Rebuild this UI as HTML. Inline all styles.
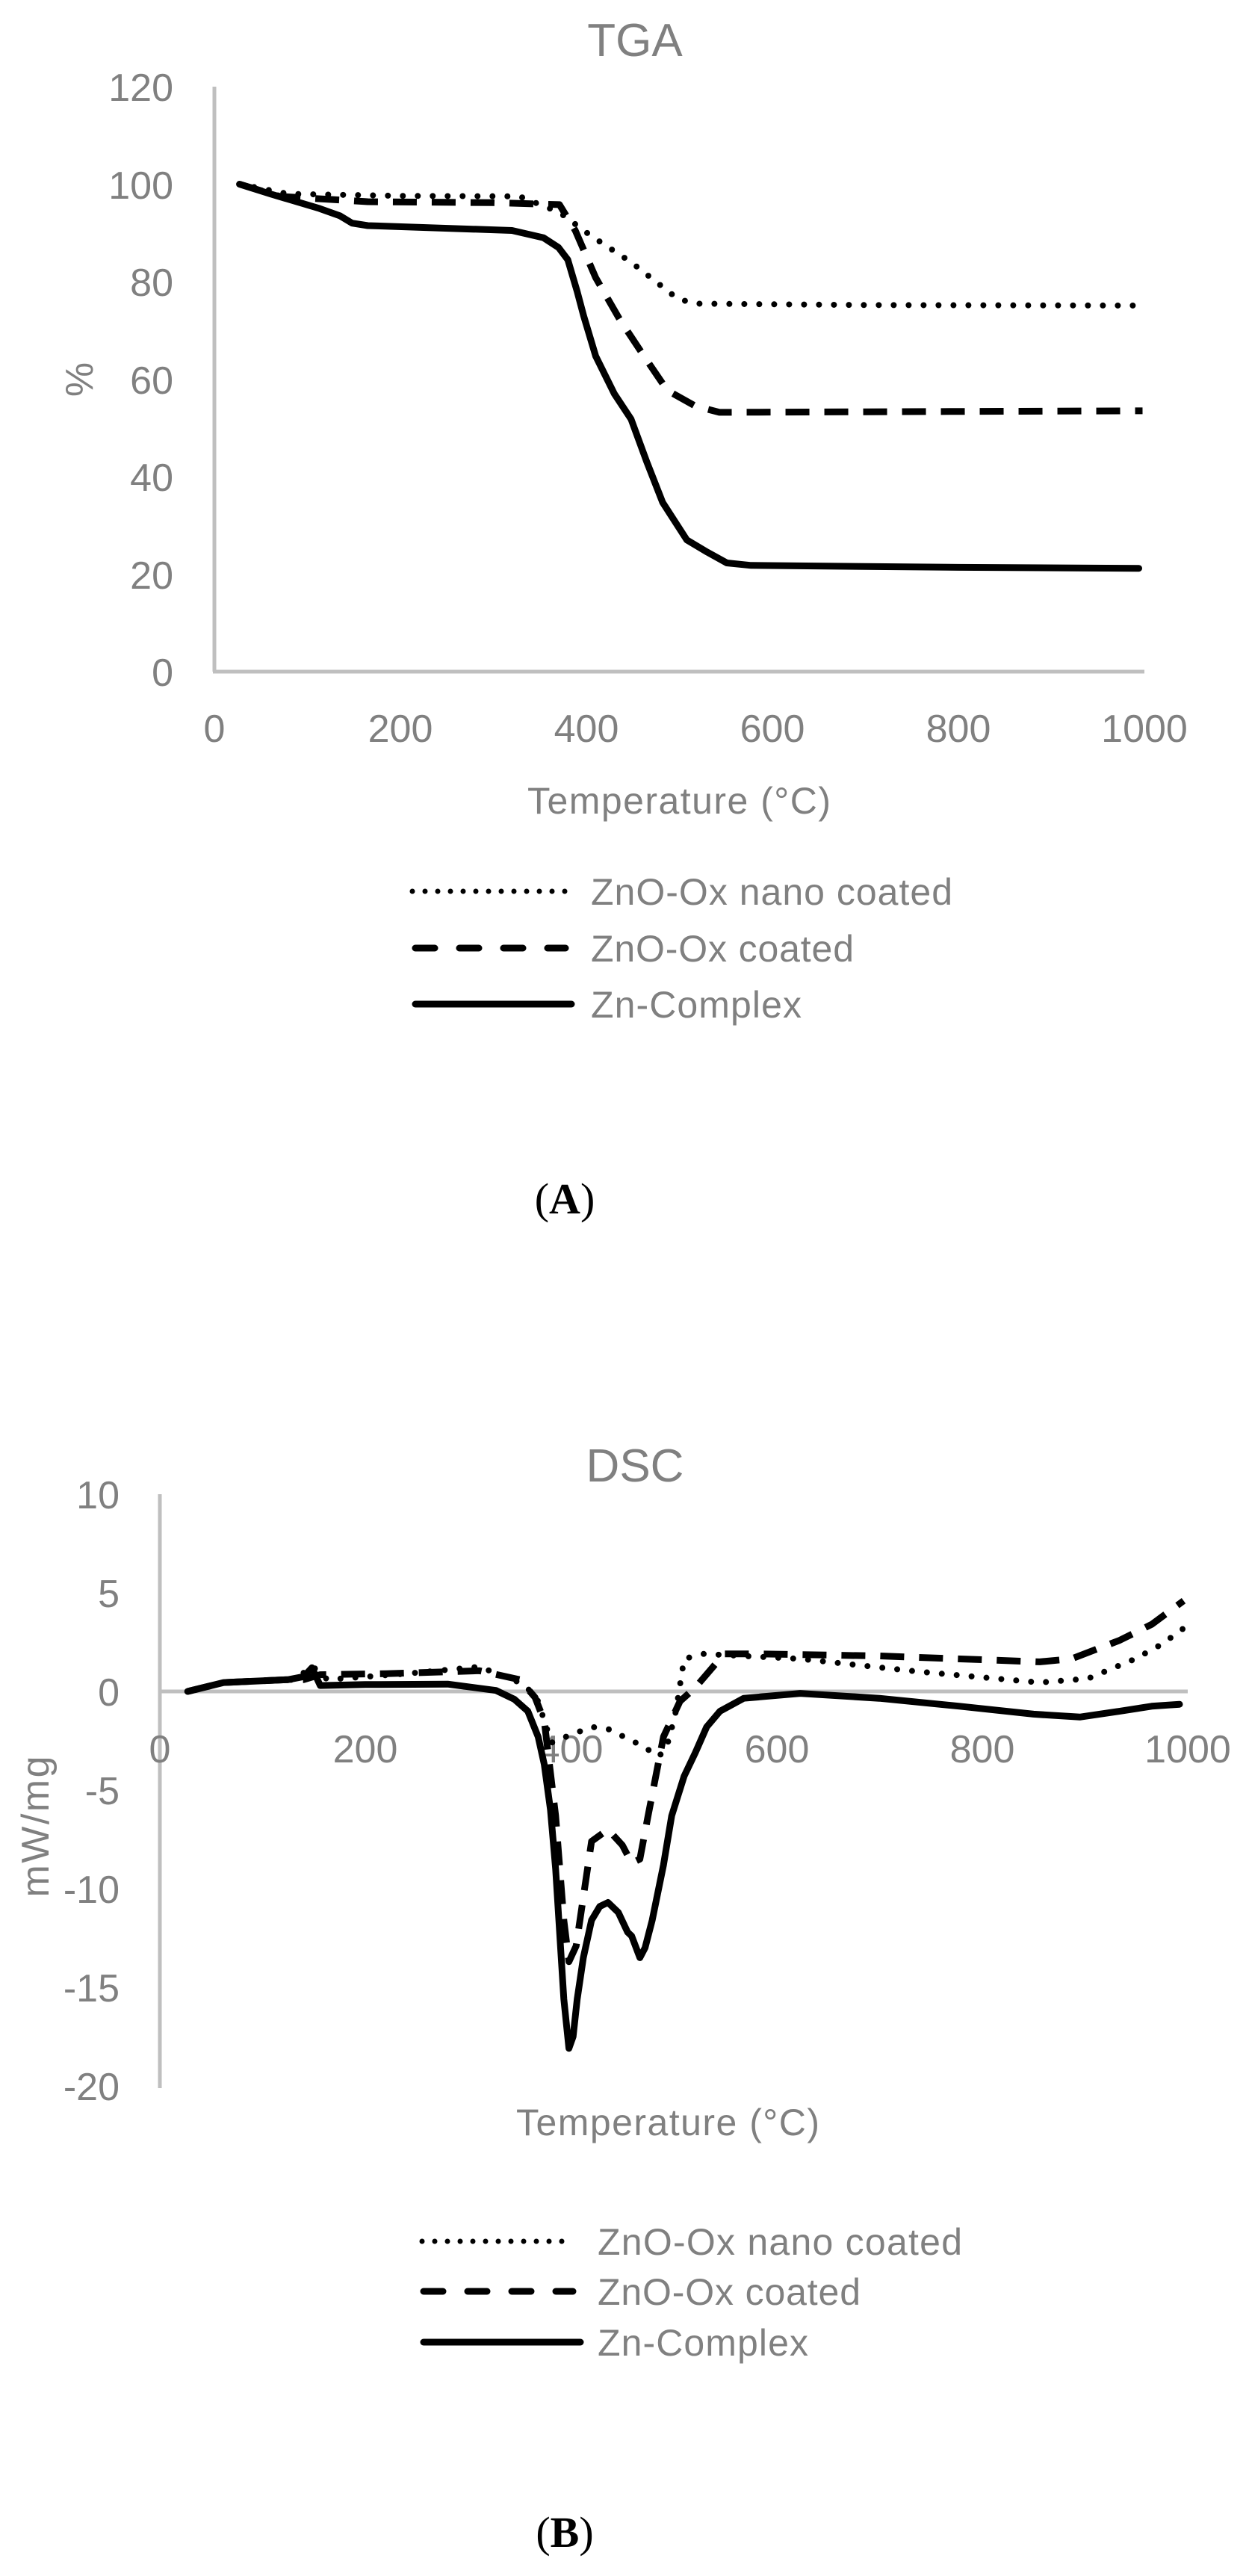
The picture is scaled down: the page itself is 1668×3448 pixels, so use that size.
<!DOCTYPE html>
<html><head><meta charset="utf-8"><style>
html,body{margin:0;padding:0;background:#fff;}
svg{display:block;}
text{font-family:"Liberation Sans",sans-serif;fill:#808080;}
</style></head><body>
<svg id="s" width="1668" height="3448" viewBox="0 0 1668 3448" xmlns="http://www.w3.org/2000/svg">
<rect width="1668" height="3448" fill="#fff"/>
<!-- TGA -->
<text x="850" y="75" font-size="62" text-anchor="middle" fill="#757575">TGA</text>
<line x1="287" y1="116" x2="287" y2="899" stroke="#bfbfbf" stroke-width="5"/>
<line x1="285" y1="899" x2="1532" y2="899" stroke="#bfbfbf" stroke-width="5"/>
<g font-size="52" text-anchor="end">
<text x="232" y="918">0</text><text x="232" y="788">20</text><text x="232" y="657">40</text>
<text x="232" y="527">60</text><text x="232" y="396">80</text><text x="232" y="266">100</text><text x="232" y="135">120</text>
</g>
<g font-size="52" text-anchor="middle">
<text x="287" y="993">0</text><text x="536" y="993">200</text><text x="785" y="993">400</text>
<text x="1034" y="993">600</text><text x="1283" y="993">800</text><text x="1532" y="993">1000</text>
</g>
<text x="909" y="1089" font-size="50" text-anchor="middle" textLength="406">Temperature (°C)</text>
<text transform="translate(124,508) rotate(-90)" font-size="52" text-anchor="middle">%</text>
<g id="tga"></g>
<!-- Legend A -->
<line x1="552" y1="1193" x2="759" y2="1193" stroke="#000" stroke-width="7" stroke-dasharray="0 17" stroke-linecap="round"/>
<line x1="556" y1="1269" x2="757" y2="1269" stroke="#000" stroke-width="9" stroke-dasharray="26 33" stroke-linecap="round"/>
<line x1="556" y1="1344" x2="765" y2="1344" stroke="#000" stroke-width="9" stroke-linecap="round"/>
<g font-size="50">
<text x="791" y="1211" textLength="484">ZnO-Ox nano coated</text>
<text x="791" y="1287" textLength="352">ZnO-Ox coated</text>
<text x="791" y="1362" textLength="282">Zn-Complex</text>
</g>
<text x="756" y="1624" font-size="58" text-anchor="middle" style="font-family:'Liberation Serif',serif;fill:#000;">(<tspan font-weight="bold">A</tspan>)</text>

<!-- DSC -->
<text x="850" y="1983" font-size="62" text-anchor="middle" fill="#757575">DSC</text>
<line x1="214" y1="2000" x2="214" y2="2795" stroke="#bfbfbf" stroke-width="5"/>
<line x1="212" y1="2264" x2="1590" y2="2264" stroke="#bfbfbf" stroke-width="5"/>
<g font-size="52" text-anchor="end">
<text x="160" y="2019">10</text><text x="160" y="2151">5</text><text x="160" y="2283">0</text>
<text x="160" y="2415">-5</text><text x="160" y="2547">-10</text><text x="160" y="2679">-15</text><text x="160" y="2811">-20</text>
</g>
<g font-size="52" text-anchor="middle">
<text x="214" y="2359">0</text><text x="489" y="2359">200</text><text x="764" y="2359">400</text>
<text x="1040" y="2359">600</text><text x="1315" y="2359">800</text><text x="1590" y="2359">1000</text>
</g>
<text x="894" y="2858" font-size="50" text-anchor="middle" textLength="406">Temperature (°C)</text>
<text transform="translate(65,2445) rotate(-90)" font-size="52" text-anchor="middle" textLength="189">mW/mg</text>
<g id="dsc"></g>
<!-- Legend B -->
<line x1="565" y1="3000" x2="769" y2="3000" stroke="#000" stroke-width="7" stroke-dasharray="0 17" stroke-linecap="round"/>
<line x1="567" y1="3067" x2="767" y2="3067" stroke="#000" stroke-width="9" stroke-dasharray="26 33" stroke-linecap="round"/>
<line x1="567" y1="3135" x2="777" y2="3135" stroke="#000" stroke-width="9" stroke-linecap="round"/>
<g font-size="50">
<text x="800" y="3018" textLength="488">ZnO-Ox nano coated</text>
<text x="800" y="3085" textLength="352">ZnO-Ox coated</text>
<text x="800" y="3153" textLength="282">Zn-Complex</text>
</g>
<text x="756" y="3409" font-size="58" text-anchor="middle" style="font-family:'Liberation Serif',serif;fill:#000;">(<tspan font-weight="bold">B</tspan>)</text>
</svg>
<script>
(function(){
var NS="http://www.w3.org/2000/svg";
function draw(gid,data,fx,fy,style){
  var g=document.getElementById(gid);
  var d=data.map(function(p,i){return (i?"L":"M")+fx(p[0]).toFixed(1)+" "+fy(p[1]).toFixed(1);}).join(" ");
  var p=document.createElementNS(NS,"path");
  p.setAttribute("d",d);p.setAttribute("fill","none");p.setAttribute("stroke","#000");
  p.setAttribute("stroke-linejoin","round");
  for(var k in style)p.setAttribute(k,style[k]);
  g.appendChild(p);
}
var tx=function(t){return 287+1.245*t;}, ty=function(v){return 899-6.525*v;};
var solid={"stroke-width":"9","stroke-linecap":"round"};
var dash={"stroke-width":"9","stroke-dasharray":"32 20","stroke-linecap":"butt"};
var dot={"stroke-width":"8","stroke-dasharray":"0 20","stroke-linecap":"round"};
draw("tga",[[27,100],[70,97.5],[165,96.4],[300,96.2],[371,95.8],[388,90.5],[410,80.8],[436,72.2],[462,64.7],[487,57.7],[517,54.5],[543,53.2],[700,53.3],[998,53.5]],tx,ty,dash);
draw("tga",[[27,100],[79,98],[200,97.6],[328,97.5],[371,94.2],[405,89.4],[448,84],[498,76.5],[517,75.5],[700,75.2],[998,75.1]],tx,ty,dot);
draw("tga",[[27,100],[60,98],[113,95],[135,93.5],[148,92],[165,91.5],[320,90.5],[354,89],[370,87],[380,84.5],[390,78],[397,73],[410,64.7],[430,57],[448,51.8],[465,43],[482,34.7],[508,27],[530,24.5],[551,22.3],[577,21.8],[800,21.4],[994,21.2]],tx,ty,solid);
var dx=function(t){return 214+1.376*t;}, dy=function(v){return 2264-26.4*v;};
draw("dsc",[[27,0],[62,0.45],[125,0.6],[140,0.6],[156,0.85],[220,0.9],[311,1.05],[350,0.6],[365,-0.3],[374,-1.5],[385,-6.3],[393,-11.6],[398,-13.7],[405,-12.9],[420,-7.6],[436,-7],[450,-7.8],[459,-8.7],[467,-8.5],[475,-6.3],[490,-2.3],[506,-0.5],[521,0.2],[549,1.9],[584,1.9],[700,1.8],[856,1.5],[887,1.65],[934,2.6],[965,3.4],[996,4.6]],dx,dy,dash);
draw("dsc",[[27,0],[62,0.45],[132,0.6],[148,1.3],[163,0.6],[240,0.9],[311,1.25],[350,0.45],[366,-0.2],[381,-2.6],[395,-2.3],[405,-2.1],[420,-1.8],[436,-1.9],[467,-2.7],[486,-3.3],[495,-2.5],[502,-1],[510,1.65],[529,1.9],[623,1.65],[739,1],[856,0.45],[903,0.65],[949,1.65],[975,2.4],[996,3.2]],dx,dy,dot);
draw("dsc",[[27,0],[62,0.45],[125,0.6],[140,0.75],[148,1.2],[156,0.3],[200,0.35],[280,0.37],[327,0.05],[345,-0.4],[358,-1],[368,-2.3],[374,-3.7],[380,-6],[385,-9],[393,-15.6],[398,-18.1],[402,-17.5],[406,-15.6],[412,-13.5],[420,-11.6],[428,-10.9],[436,-10.7],[446,-11.2],[455,-12.2],[459,-12.4],[467,-13.5],[472,-13],[479,-11.6],[490,-8.8],[498,-6.3],[510,-4.3],[521,-3.1],[532,-1.8],[545,-1],[568,-0.35],[623,-0.1],[700,-0.35],[778,-0.75],[850,-1.15],[895,-1.3],[934,-1],[965,-0.75],[992,-0.65]],dx,dy,solid);
})();
</script>
</body></html>
